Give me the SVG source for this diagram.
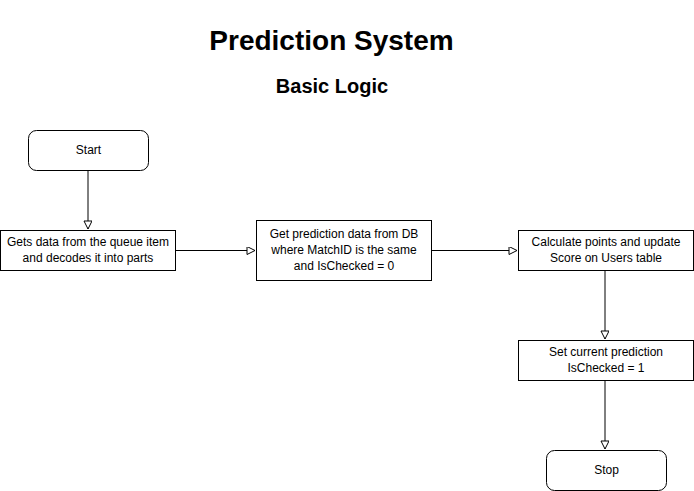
<svg xmlns="http://www.w3.org/2000/svg" width="694" height="491" viewBox="0 0 694 491">
<style>
.box{fill:#fff;stroke:#000;stroke-width:1}
.t{font-family:"Liberation Sans",Arial,sans-serif;font-size:12px;fill:#000;text-anchor:middle}
.h{font-family:"Liberation Sans",Arial,sans-serif;font-weight:bold;fill:#000;text-anchor:middle}
.c{stroke:#000;stroke-width:1;fill:none;marker-end:url(#a)}
</style>
<defs>
<marker id="a" markerWidth="12" markerHeight="10" refX="9" refY="4" orient="auto" markerUnits="userSpaceOnUse">
<path d="M1,0 L9,4 L1,8 Z" fill="#fff" stroke="#000" stroke-width="1"/>
</marker>
</defs>
<rect width="694" height="491" fill="#fff"/>
<text class="h" x="331.5" y="50" font-size="28">Prediction System</text>
<text class="h" x="332" y="93" font-size="20">Basic Logic</text>
<g id="connectors">
<path class="c" d="M88,170 L88,229"/>
<path class="c" d="M175,250.5 L255,250.5"/>
<path class="c" d="M431,250.5 L517,250.5"/>
<path class="c" d="M605,270 L605,339"/>
<path class="c" d="M605,380 L605,449"/>
</g>
<g id="start"><rect class="box" x="28.5" y="130.5" width="120" height="40" rx="8"/><text class="t" x="88.5" y="154">Start</text></g>
<g id="decode"><rect class="box" x="0.5" y="230.5" width="175" height="40"/><text class="t" x="88" y="246">Gets data from the queue item</text><text class="t" x="88" y="262">and decodes it into parts</text></g>
<g id="getdata"><rect class="box" x="256.5" y="220.5" width="175" height="60"/><text class="t" x="344" y="238">Get prediction data from DB</text><text class="t" x="344" y="254">where MatchID is the same</text><text class="t" x="344" y="270">and IsChecked = 0</text></g>
<g id="calc"><rect class="box" x="518.5" y="230.5" width="175" height="40"/><text class="t" x="606" y="246">Calculate points and update</text><text class="t" x="606" y="262">Score on Users table</text></g>
<g id="setchecked"><rect class="box" x="518.5" y="340.5" width="175" height="40"/><text class="t" x="606" y="356">Set current prediction</text><text class="t" x="606" y="372">IsChecked = 1</text></g>
<g id="stop"><rect class="box" x="546.5" y="450.5" width="120" height="40" rx="8"/><text class="t" x="606.5" y="474">Stop</text></g>
</svg>
